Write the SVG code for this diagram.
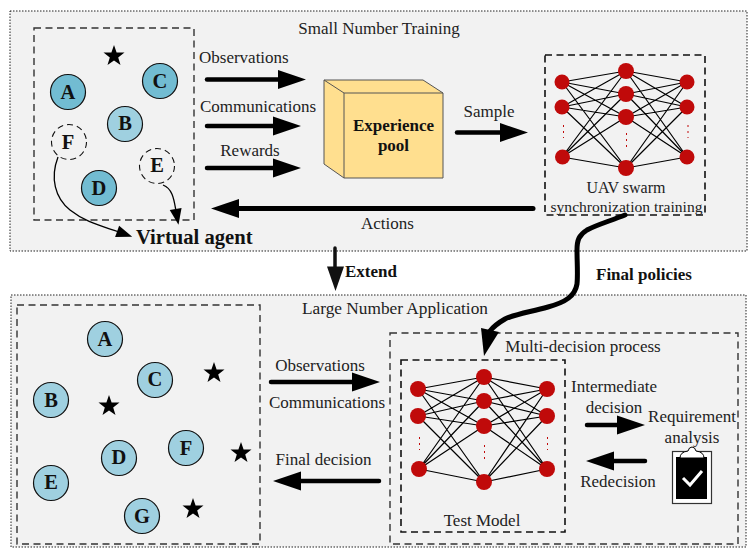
<svg xmlns="http://www.w3.org/2000/svg" width="756" height="559" viewBox="0 0 756 559">
<style>
text{font-family:"Liberation Serif","Times New Roman",serif;fill:#222;font-size:17px}
.c{text-anchor:middle}
.b{font-weight:bold;fill:#111}
.n{font-weight:bold;font-size:20.5px;text-anchor:middle;fill:#111}
.panel{fill:#f2f2f2;stroke:#222;stroke-width:1;stroke-dasharray:1.5 1.5}
.box{fill:none;stroke:#333;stroke-width:1.4;stroke-dasharray:7 4.5}
.kbox{fill:none;stroke:#111;stroke-width:1.6;stroke-dasharray:7 4.5}
.a1{fill:#72bcd2;stroke:#111;stroke-width:1.2}
.a2{fill:#9fd0e0;stroke:#111;stroke-width:1.2}
.gh{fill:none;stroke:#111;stroke-width:1.1;stroke-dasharray:6 4}
.arr{fill:none;stroke:#000;stroke-width:4.5;stroke-linecap:round;marker-end:url(#h)}
.thin{fill:none;stroke:#000;stroke-width:1.3;marker-end:url(#t)}
.net{fill:none;stroke:#000;stroke-width:1.2}
.rd{fill:#c00a0a}
.dots{fill:none;stroke:#c00a0a;stroke-width:1;stroke-dasharray:2 4}
</style>
<defs>
<marker id="h" markerUnits="userSpaceOnUse" markerWidth="28" markerHeight="19" refX="2" refY="9.5" orient="auto" overflow="visible"><path d="M0 0L28 9.500L0 19Z" fill="#000"/></marker>
<marker id="t" markerUnits="userSpaceOnUse" markerWidth="16" markerHeight="12" refX="2" refY="6" orient="auto" overflow="visible"><path d="M0 0L16 6L0 12Z" fill="#000"/></marker>
<path id="star" d="M0-11L2.600-3.400L10.500-3.400L4.200 1.400L6.500 9L0 4.500L-6.500 9L-4.200 1.400L-10.500-3.400L-2.600-3.400Z" fill="#000"/>
</defs>

<rect class="panel" x="10" y="11" width="737" height="240"/>
<rect class="panel" x="11" y="295" width="735" height="252"/>

<g id="small-title"><text class="c" x="379" y="34">Small Number Training</text></g>
<g id="large-title"><text class="c" x="395" y="314" style="font-size:17.300px">Large Number Application</text></g>

<g id="top-swarm">
<rect class="box" x="34" y="28" width="160" height="192"/>
<use href="#star" x="114" y="56"/>
<circle class="a1" cx="68" cy="92" r="17.500"/><text class="n" x="68" y="99">A</text>
<circle class="a1" cx="160" cy="81" r="17.500"/><text class="n" x="160" y="88">C</text>
<circle class="a2" cx="125" cy="124" r="17.500"/><text class="n" x="125" y="130">B</text>
<circle class="gh" cx="69" cy="142" r="17.500"/><text class="n" x="68" y="149">F</text>
<circle class="gh" cx="157" cy="166" r="17.500"/><text class="n" x="157" y="172">E</text>
<circle class="a1" cx="99" cy="188" r="17.500"/><text class="n" x="99" y="195">D</text>
</g>
<g id="virtual-agent"><text class="b" x="136" y="244" style="font-size:20.6px">Virtual agent</text></g>

<g id="experience-pool">
<path d="M324 80L423 80L443 93L443 178L344 178L324 164Z" fill="#ffdf8f" stroke="#555" stroke-width="1"/>
<path d="M324 80L344 93L443 93M344 93L344 178" fill="none" stroke="#555" stroke-width="1"/>
<text class="b c" x="393.500" y="131">Experience</text>
<text class="b c" x="393.500" y="151">pool</text>
</g>

<g id="training-net">
<rect class="kbox" x="545" y="55" width="160" height="160"/>
<path class="net" d="M562 82L626 71M562 82L626 94M562 82L626 117M562 82L626 168M562 107L626 71M562 107L626 94M562 107L626 117M562 107L626 168M562 157L626 71M562 157L626 94M562 157L626 117M562 157L626 168M626 71L687 82M626 71L687 107M626 71L687 157M626 94L687 82M626 94L687 107M626 94L687 157M626 117L687 82M626 117L687 107M626 117L687 157M626 168L687 82M626 168L687 107M626 168L687 157"/>
<circle class="rd" cx="562" cy="82" r="7.500"/><circle class="rd" cx="562" cy="107" r="7.500"/><circle class="rd" cx="562.500" cy="157" r="7.500"/>
<circle class="rd" cx="626" cy="71" r="8"/><circle class="rd" cx="626" cy="94" r="8"/><circle class="rd" cx="626" cy="117" r="8"/><circle class="rd" cx="626" cy="168" r="8"/>
<circle class="rd" cx="687" cy="82" r="7.500"/><circle class="rd" cx="687" cy="107" r="7.500"/><circle class="rd" cx="687" cy="157" r="7.500"/>
<path class="dots" d="M563.500 125V138M626.500 133V148M688 125V138"/>
<text class="c" x="626" y="192.500" style="font-size:16px">UAV swarm</text>
<text class="c" x="626.500" y="212" style="font-size:15.600px">synchronization training</text>
</g>

<g id="bottom-swarm">
<rect class="box" x="17" y="305" width="243" height="239"/>
<circle class="a2" cx="105" cy="339" r="17.500"/><text class="n" x="105" y="346">A</text>
<circle class="a2" cx="155" cy="380" r="17.500"/><text class="n" x="155" y="386">C</text>
<circle class="a2" cx="51" cy="400" r="17.500"/><text class="n" x="51" y="407">B</text>
<circle class="a2" cx="119" cy="458" r="17.500"/><text class="n" x="119" y="464">D</text>
<circle class="a2" cx="186" cy="448" r="17.500"/><text class="n" x="186" y="455">F</text>
<circle class="a2" cx="51" cy="483" r="17.500"/><text class="n" x="51" y="489">E</text>
<circle class="a2" cx="142" cy="516" r="17.500"/><text class="n" x="142" y="523">G</text>
<use href="#star" x="214" y="373"/><use href="#star" x="109" y="406"/><use href="#star" x="241" y="453"/><use href="#star" x="193" y="509"/>
</g>

<g id="multi-decision">
<rect class="box" x="390" y="333" width="348" height="211"/>
<text class="c" x="583" y="352">Multi-decision process</text>
</g>

<g id="test-model">
<rect class="kbox" x="401" y="360" width="164" height="172"/>
<path class="net" d="M418 389L484 377M418 389L484 401M418 389L484 426M418 389L484 482M418 416L484 377M418 416L484 401M418 416L484 426M418 416L484 482M419 469L484 377M419 469L484 401M419 469L484 426M419 469L484 482M484 377L547 389M484 377L547 416M484 377L547 469M484 401L547 389M484 401L547 416M484 401L547 469M484 426L547 389M484 426L547 416M484 426L547 469M484 482L547 389M484 482L547 416M484 482L547 469"/>
<circle class="rd" cx="418" cy="389" r="8"/><circle class="rd" cx="418" cy="416" r="8"/><circle class="rd" cx="419" cy="469" r="8"/>
<circle class="rd" cx="484" cy="377" r="8"/><circle class="rd" cx="484" cy="401" r="8"/><circle class="rd" cx="484" cy="426" r="8"/><circle class="rd" cx="484" cy="482" r="8"/>
<circle class="rd" cx="547" cy="389" r="8"/><circle class="rd" cx="547" cy="416" r="8"/><circle class="rd" cx="547" cy="469" r="8"/>
<path class="dots" d="M419.500 437V450M484.500 445V460M547.500 437V450"/>
<text class="c" x="482" y="525.500">Test Model</text>
</g>

<g id="requirement-analysis">
<text class="c" x="692" y="421.500">Requirement</text>
<text class="c" x="692" y="442.500">analysis</text>
<rect x="672.500" y="451.500" width="39" height="52" fill="#fff" stroke="#333" stroke-width="1.200"/>
<rect x="676" y="457" width="31" height="42" fill="#000"/>
<path d="M680 458Q680 452 688 451Q689 447 692 447Q695 447 696 451Q704 452 704 458Z" fill="#fff" stroke="#000" stroke-width="1"/>
<path d="M683 478L690 485L702 471" fill="none" stroke="#fff" stroke-width="3"/>
</g>

<g id="connectors">
<path class="arr" d="M207 79.500H280"/>
<path class="arr" d="M207 126H275"/>
<path class="arr" d="M207 168H275"/>
<path class="arr" d="M457 132.500H502"/>
<path class="arr" style="stroke-width:5" d="M533 208.500H237"/>
<path d="M335 248V268" fill="none" stroke="#111" stroke-width="3.500" stroke-linecap="round"/>
<path d="M327 266.500H344L335.500 291Z" fill="#111"/>
<path class="arr" d="M271 382H354"/>
<path class="arr" d="M379 481H299"/>
<path class="arr" d="M587 425H619"/>
<path class="arr" d="M645 461H612"/>
<path class="thin" d="M58 157C50 178 55 198 70 210C85 222 102 226 119 232"/>
<path class="thin" d="M163 185C173 189 174 200 176 211"/>
<path d="M625 215C610 221 596 225 587 230C579 235 577 240 577 250C577 262 578 275 577 284C575 296 566 302 548 307C530 312 515 314 505 319C498 323 494 326 490 331" fill="none" stroke="#000" stroke-width="5" stroke-linecap="round"/>
<path d="M481 328L499 332L484 356Z" fill="#000"/>
</g>

<g id="labels">
<text x="199" y="62.500">Observations</text>
<text x="200" y="111.500">Communications</text>
<text class="c" x="250" y="155.500">Rewards</text>
<text class="c" x="489" y="116.500">Sample</text>
<text class="c" x="387.500" y="228.500">Actions</text>
<text class="b" x="345" y="276.500">Extend</text>
<text class="b" x="596" y="279.500">Final policies</text>
<text class="c" x="320" y="370.500">Observations</text>
<text class="c" x="327" y="407.500">Communications</text>
<text class="c" x="323.500" y="464.500">Final decision</text>
<text class="c" x="614" y="391.500">Intermediate</text>
<text class="c" x="614" y="412.500">decision</text>
<text class="c" x="618" y="486.500">Redecision</text>
</g>
</svg>
